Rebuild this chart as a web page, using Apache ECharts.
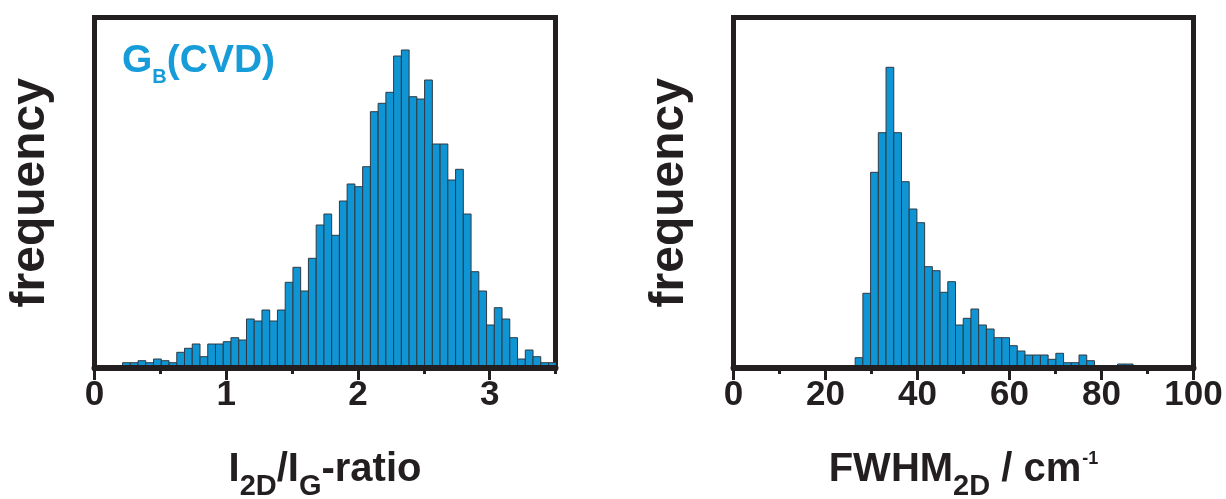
<!DOCTYPE html>
<html>
<head>
<meta charset="utf-8">
<script src="https://cdn.jsdelivr.net/npm/echarts@6/dist/echarts.min.js"></script>
<style>
html,body{margin:0;padding:0;background:#fff;}
#chart{width:1226px;height:499px;}
</style>
</head>
<body>
<div id="chart"></div>
<script>
// ---- data (arbitrary frequency units) ----
// Left histogram: I2D/IG ratio
const ratioBinStart = 0.213;
const ratioBinWidth = 0.0588;
const ratioCounts = [5.3, 5.3, 7.3, 5.3, 9, 7.3, 5.3, 15.7, 19.7, 24, 11.3, 24, 24, 26.3, 30.3, 28,
  49, 47, 58, 47, 58, 85.7, 100.7, 77, 109.7, 143, 154, 132.7, 167, 184, 181.3, 201.3,
  256.3, 264.7, 275.7, 312, 318, 271.3, 269, 288, 224, 224, 188, 198.7, 154, 96.3,
  77, 43, 60.3, 49, 30.3, 9, 18, 11.3, 5.3, 5.3];
// Right histogram: FWHM 2D
const fwhmBinStart = 26.45;
const fwhmBinWidth = 1.678;
const fwhmCounts = [10.3, 74.7, 195.7, 235.3, 300.7, 235.3, 186.3, 159, 145.3, 101.3, 97.3,
  75.7, 86.3, 43, 49.7, 59, 43, 39, 30.3, 30.3, 22.3, 17, 13, 13, 13, 8.7, 14.7,
  5.3, 5.3, 13, 7.3, 0, 0, 0, 4, 4];
// tick labels
const ratioMajorTicks = [0, 1, 2, 3];
const ratioMinorTicks = [0.5, 1.5, 2.5, 3.5];
const freqMax = 350.5;

function bins(start, width, counts) {
  return counts.map((c, i) => [start + i * width, start + (i + 1) * width, c]);
}

const INK = '#231f20';
const BAR = '#0f95d4';
const BAR_EDGE = '#2e3a43';
const FONT = '"Liberation Sans", Arial, sans-serif';

function renderBar(params, api) {
  const p0 = api.coord([api.value(0), api.value(2)]);
  const p1 = api.coord([api.value(1), 0]);
  return {
    type: 'rect',
    shape: { x: p0[0], y: p0[1], width: p1[0] - p0[0], height: p1[1] - p0[1] },
    style: { fill: BAR, stroke: BAR_EDGE, lineWidth: 1 }
  };
}

const subRich = {
  m: { fontSize: 40, fontWeight: 'bold', fontFamily: FONT, color: INK, lineHeight: 44, verticalAlign: 'top' },
  s: { fontSize: 29, fontWeight: 'bold', fontFamily: FONT, color: INK, lineHeight: 29, verticalAlign: 'top', padding: [22, 0, 0, 0] },
  u: { fontSize: 18, fontWeight: 'bold', fontFamily: FONT, color: INK, lineHeight: 18, verticalAlign: 'top', padding: [0, 0, 0, 1] }
};

const axisLineStyle = { show: true, lineStyle: { color: INK, width: 6 } };
const labelStyle = { fontSize: 35, fontWeight: 'bold', fontFamily: FONT, color: INK, margin: 10 };

const chart = echarts.init(document.getElementById('chart'), null, { renderer: 'canvas' });
chart.setOption({
  animation: false,
  backgroundColor: '#fff',
  title: {
    left: 122, top: 42, padding: 0,
    text: '{g|G}{b|B}{g|(CVD)}',
    textStyle: {
      rich: {
        g: { fontSize: 39, fontWeight: 'bold', fontFamily: FONT, color: '#169cd9', lineHeight: 39, verticalAlign: 'top' },
        b: { fontSize: 20, fontWeight: 'bold', fontFamily: FONT, color: '#169cd9', lineHeight: 20, verticalAlign: 'top', padding: [25, 0, 0, 0] }
      }
    }
  },
  grid: [
    { left: 94.5, top: 17.5, width: 461, height: 350.5, show: true, borderColor: INK, borderWidth: 5, backgroundColor: 'transparent', containLabel: false, outerBoundsMode: 'none' },
    { left: 733.5, top: 17.5, width: 460, height: 350.5, show: true, borderColor: INK, borderWidth: 5, backgroundColor: 'transparent', containLabel: false, outerBoundsMode: 'none' }
  ],
  xAxis: [
    {
      gridIndex: 0, type: 'value', min: 0, max: 3.5, position: 'bottom', z: 10,
      axisLine: axisLineStyle,
      axisTick: { show: true, customValues: ratioMajorTicks, length: 12, lineStyle: { color: INK, width: 3 } },
      axisLabel: Object.assign({ customValues: ratioMajorTicks }, labelStyle),
      splitLine: { show: false },
      name: '{m|I}{s|2D}{m|/I}{s|G}{m|-ratio}',
      nameLocation: 'middle', nameGap: 82,
      nameTextStyle: { rich: subRich }
    },
    {
      gridIndex: 0, type: 'value', min: 0, max: 3.5, position: 'bottom', z: 10,
      axisLine: { show: false },
      axisTick: { show: true, customValues: ratioMinorTicks, length: 6, lineStyle: { color: INK, width: 3 } },
      axisLabel: { show: false },
      splitLine: { show: false }
    },
    {
      gridIndex: 1, type: 'value', min: 0, max: 100, interval: 20, position: 'bottom', z: 10,
      axisLine: axisLineStyle,
      axisTick: { show: true, length: 12, lineStyle: { color: INK, width: 3 } },
      minorTick: { show: true, splitNumber: 2, length: 6, lineStyle: { color: INK, width: 3 } },
      axisLabel: labelStyle,
      splitLine: { show: false },
      name: '{m|FWHM}{s|2D}{m| / cm}{u|-1}',
      nameLocation: 'middle', nameGap: 82,
      nameTextStyle: { rich: subRich }
    }
  ],
  yAxis: [0, 1].map(g => ({
    gridIndex: g, type: 'value', min: 0, max: freqMax,
    axisLine: { show: false }, axisTick: { show: false }, axisLabel: { show: false },
    splitLine: { show: false },
    name: 'frequency', nameLocation: 'middle', nameGap: 40,
    nameTextStyle: { fontSize: 48, fontWeight: 'bold', fontFamily: FONT, color: INK }
  })),
  series: [
    {
      type: 'custom', name: 'I2D/IG', xAxisIndex: 0, yAxisIndex: 0,
      renderItem: renderBar, encode: { x: [0, 1], y: 2 },
      data: bins(ratioBinStart, ratioBinWidth, ratioCounts), clip: true
    },
    {
      type: 'custom', name: 'FWHM', xAxisIndex: 2, yAxisIndex: 1,
      renderItem: renderBar, encode: { x: [0, 1], y: 2 },
      data: bins(fwhmBinStart, fwhmBinWidth, fwhmCounts), clip: true
    }
  ]
});
</script>
</body>
</html>
